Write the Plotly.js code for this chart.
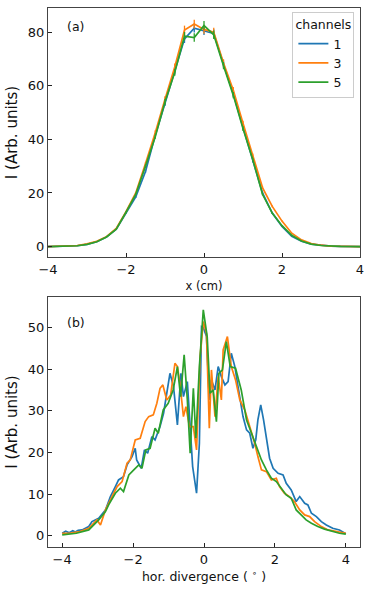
<!DOCTYPE html>
<html>
<head>
<meta charset="utf-8">
<script src="https://cdn.plot.ly/plotly-3.0.1.min.js"></script>
<style>
  html, body { margin: 0; padding: 0; background: #fff; }
  #chart { width: 374px; height: 592px; }
</style>
</head>
<body>
<div id="chart"></div>
<script>
// panel (a): beam profile vs x, one point every 0.25 cm
var xProfile = [-4, -3.75, -3.5, -3.25, -3, -2.75, -2.5, -2.25, -2, -1.75, -1.5, -1.25, -1, -0.75, -0.5, -0.25,
  0, 0.25, 0.5, 0.75, 1, 1.25, 1.5, 1.75, 2, 2.25, 2.5, 2.75, 3, 3.25, 3.5, 3.75, 4];
var profCh1 = [0, 0.05, 0.1, 0.3, 0.8, 1.8, 3.6, 6.5, 12.5, 18.5, 28, 41.5, 53.5, 65.5, 77.5, 81.5,
  80.5, 79.5, 68, 57, 44.5, 32, 20, 12.5, 7.5, 3.8, 2.0, 0.9, 0.4, 0.15, 0.05, 0.02, 0];
var profCh3 = [0, 0.05, 0.15, 0.4, 1.0, 2.0, 3.7, 6.8, 13, 20, 31, 42.5, 55, 67, 80.8, 83,
  81, 80, 68.5, 58.4, 46, 34, 22, 15, 9.5, 5, 2.5, 1.1, 0.5, 0.2, 0.1, 0.03, 0];
var profCh5 = [0, 0.05, 0.1, 0.3, 0.8, 1.8, 3.6, 6.5, 12.8, 19.5, 30, 41, 54, 65, 78.5, 78,
  82.5, 79, 67.5, 56.5, 44, 32.5, 19.5, 12.5, 7.8, 4.2, 2.1, 0.9, 0.4, 0.15, 0.05, 0.02, 0];

// panel (b): horizontal divergence
var divX1 = [-4.0, -3.9, -3.8, -3.7, -3.63, -3.55, -3.44, -3.35, -3.25, -3.16, -2.97, -2.78, -2.64, -2.5, -2.41, -2.27,
  -2.17, -2.03, -1.94, -1.9, -1.77, -1.68, -1.59, -1.47, -1.38, -1.24, -1.14, -0.96, -0.86, -0.75, -0.65, -0.58,
  -0.47, -0.39, -0.32, -0.21, -0.13, -0.07, -0.02, 0.07, 0.15, 0.21, 0.31, 0.40, 0.49, 0.59, 0.68, 0.77, 0.87,
  0.96, 1.10, 1.2, 1.29, 1.38, 1.46, 1.52, 1.6, 1.68, 1.76, 1.85, 1.95, 2.09, 2.23, 2.32, 2.46, 2.6, 2.7, 2.84,
  2.93, 3.03, 3.17, 3.31, 3.45, 3.63, 3.82, 4.0];
var divCh1 = [0.6, 1.1, 0.7, 1.2, 0.9, 1.3, 1.4, 1.8, 2.2, 3.4, 4.2, 6.2, 9.4, 11.8, 13.4, 14.2,
  17, 19, 21, 18.2, 16.2, 20.6, 19.8, 23.8, 23, 26.2, 29.4, 39, 35.8, 26.6, 39, 33.4,
  37, 26.2, 16.6, 10.2, 22.2, 50.2, 50, 47.8, 32.6, 37.4, 35, 40.6, 38.2, 36.2, 37, 43.8, 40.6,
  35.8, 28.6, 25.4, 24.6, 21, 23, 27.8, 31.4, 27.8, 23, 18.6, 16.2, 15, 14.6, 12.6, 11, 8.2, 9.4, 7.8,
  7.4, 5.4, 4.6, 3.4, 2.6, 1.8, 1.4, 0.5];
var divX3 = [-4.0, -3.8, -3.5, -3.25, -3.02, -2.92, -2.78, -2.6, -2.45, -2.31, -2.17, -2.08, -1.94, -1.8, -1.66,
  -1.56, -1.43, -1.33, -1.24, -1.16, -1.05, -0.94, -0.82, -0.75, -0.68, -0.58, -0.51, -0.41, -0.30, -0.21,
  -0.11, -0.02, 0.07, 0.15, 0.21, 0.31, 0.40, 0.49, 0.54, 0.66, 0.77, 0.89, 1.01, 1.15, 1.29, 1.43, 1.52,
  1.62, 1.76, 1.9, 2.04, 2.13, 2.27, 2.41, 2.55, 2.7, 2.84, 2.98, 3.12, 3.31, 3.5, 3.73, 4.0];
var divCh3 = [0.6, 0.6, 1.0, 1.8, 3.8, 2.6, 6.2, 9.4, 11.8, 13, 17.4, 18.2, 23, 23.4, 27.4,
  28.6, 29, 31.8, 35.4, 36.2, 32.6, 33.8, 41.4, 40.6, 36.6, 28.6, 31, 26.2, 26.2, 20.6,
  43, 51.4, 48.6, 25.8, 39.8, 28.6, 38.2, 32.6, 44.6, 47.8, 40.6, 37.4, 32.6, 30.2, 26.2, 22.2, 19,
  15.8, 15.4, 13.4, 13.8, 11.8, 10.2, 9.4, 8.2, 6.2, 5, 4.6, 3.4, 2.2, 1.4, 1.0, 0.6];
var divX5 = [-4.0, -3.6, -3.25, -2.97, -2.78, -2.69, -2.5, -2.36, -2.27, -2.12, -1.98, -1.84, -1.75, -1.64,
  -1.52, -1.38, -1.29, -1.15, -1.01, -0.87, -0.75, -0.66, -0.56, -0.47, -0.39, -0.30, -0.23, -0.13, -0.02,
  0.09, 0.17, 0.26, 0.35, 0.42, 0.52, 0.63, 0.74, 0.89, 1.05, 1.2, 1.34, 1.48, 1.62, 1.76, 1.9, 2.04, 2.18,
  2.32, 2.46, 2.6, 2.74, 2.88, 3.03, 3.21, 3.4, 3.63, 3.82, 4.0];
var divCh5 = [0.2, 0.6, 1.4, 3.8, 5.8, 7.4, 10.2, 11.4, 10.6, 14.6, 15.8, 17, 16.2, 20.6,
  21, 25.8, 24.6, 30.2, 31.8, 35, 40.6, 33.4, 43.4, 32.6, 19.8, 35.4, 23.4, 40.6, 54.2,
  47.8, 34.2, 35, 27.4, 39, 39.8, 46.6, 40.6, 40.2, 35, 27.8, 24.6, 21.4, 18.2, 15.8, 13.8, 13, 11.4,
  9.8, 9, 6.2, 5, 3.8, 3, 2.2, 1.6, 1.0, 0.6, 0.4];

var channelNames = ['1', '3', '5'];
var colors = ['#1f77b4', '#ff7f0e', '#2ca02c'];
var font = 'DejaVu Sans, sans-serif';

function profileTrace(y, i) {
  return {
    x: xProfile, y: y, name: channelNames[i], type: 'scatter', mode: 'lines',
    line: {color: colors[i], width: 1.7},
    error_y: {type: 'percent', value: 2, width: 0, thickness: 1.3, color: colors[i]},
    xaxis: 'x', yaxis: 'y', legendgroup: channelNames[i]
  };
}
function divTrace(x, y, i) {
  return {
    x: x, y: y, name: channelNames[i], type: 'scatter', mode: 'lines',
    line: {color: colors[i], width: 1.7},
    xaxis: 'x2', yaxis: 'y2', showlegend: false, legendgroup: channelNames[i]
  };
}

var data = [
  profileTrace(profCh1, 0), profileTrace(profCh3, 1), profileTrace(profCh5, 2),
  divTrace(divX1, divCh1, 0), divTrace(divX3, divCh3, 1), divTrace(divX5, divCh5, 2)
];

var axisStyle = {
  showline: true, mirror: true, linecolor: '#444', linewidth: 1,
  ticks: 'inside', ticklen: 4, tickwidth: 1, tickcolor: '#222',
  showgrid: false, zeroline: false,
  tickfont: {family: font, size: 13, color: '#111'}
};

var layout = {
  width: 374, height: 592,
  margin: {l: 48, r: 14, t: 8, b: 45},
  paper_bgcolor: '#fff', plot_bgcolor: '#fff',
  font: {family: font, color: '#111'},
  xaxis: Object.assign({}, axisStyle, {
    domain: [0, 1], anchor: 'y', range: [-4, 4], dtick: 2,
    title: {text: 'x (cm)', font: {family: font, size: 11.5}, standoff: 6}
  }),
  yaxis: Object.assign({}, axisStyle, {
    domain: [0.538, 1], anchor: 'x', range: [-3.9, 89], dtick: 20,
    title: {text: 'I (Arb. units)', font: {family: font, size: 15}, standoff: 6}
  }),
  xaxis2: Object.assign({}, axisStyle, {
    domain: [0, 1], anchor: 'y2', range: [-4.4, 4.4], dtick: 2,
    title: {text: 'hor. divergence ( <sup>∘</sup> )', font: {family: font, size: 12.5}, standoff: 6}
  }),
  yaxis2: Object.assign({}, axisStyle, {
    domain: [0, 0.4638], anchor: 'x2', range: [-2.7, 57.3], dtick: 10,
    title: {text: 'I (Arb. units)', font: {family: font, size: 15}, standoff: 6}
  }),
  legend: {
    x: 0.982, xanchor: 'right', y: 0.993, yanchor: 'top',
    bgcolor: 'rgba(255,255,255,0.8)', bordercolor: '#ccc', borderwidth: 1,
    font: {family: font, size: 12.5},
    title: {text: 'channels', font: {family: font, size: 12.5}},
    tracegroupgap: 0, itemwidth: 30
  },
  annotations: [
    {text: '(a)', xref: 'x', yref: 'y', x: -3.3, y: 82, showarrow: false,
      xanchor: 'center', yanchor: 'middle', font: {family: font, size: 12.5}},
    {text: '(b)', xref: 'x2', yref: 'y2', x: -3.6, y: 51.2, showarrow: false,
      xanchor: 'center', yanchor: 'middle', font: {family: font, size: 12.5}}
  ],
  showlegend: true
};

Plotly.newPlot('chart', data, layout, {displayModeBar: false, staticPlot: true});
</script>
</body>
</html>
